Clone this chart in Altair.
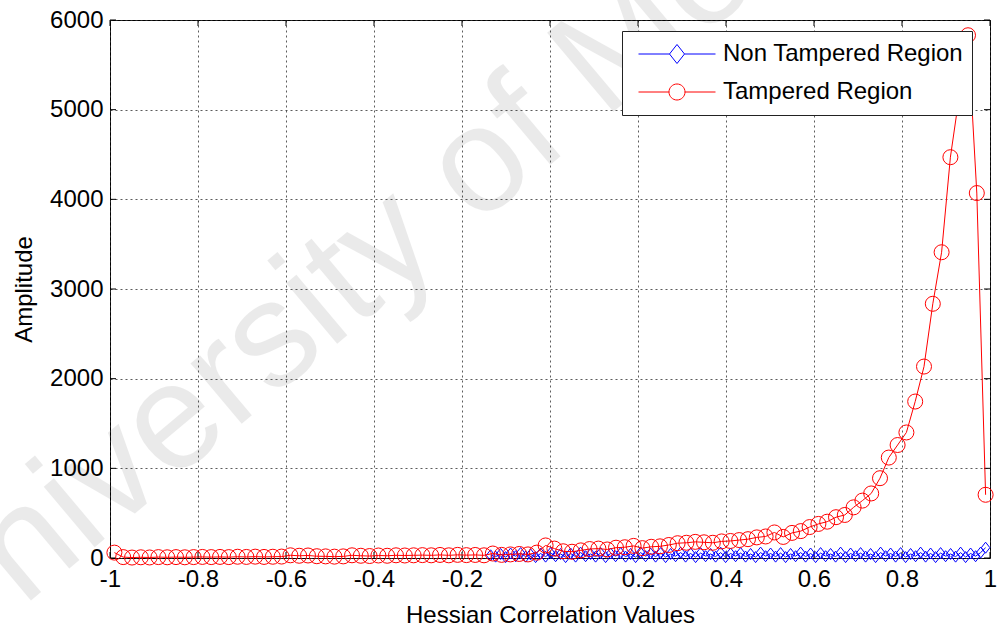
import altair as alt
import pandas as pd
import numpy as np

# ---------------- data ----------------
series_names = ["Non Tampered Region", "Tampered Region"]
series_colors = ["#0000ff", "#ff0000"]

# Tampered Region: 100 bin centres from -0.99 to 0.99
red_values = [
    60, 10, 5, 8, 6, 10, 8, 10, 8, 10,
    12, 10, 12, 10, 14, 12, 15, 12, 14, 16,
    30, 25, 28, 20, 18, 15, 18, 30, 25, 22,
    28, 25, 30, 28, 30, 32, 30, 34, 30, 35,
    32, 34, 30, 50, 35, 40, 45, 40, 60, 140,
    105, 75, 70, 85, 100, 105, 95, 115, 120, 135,
    110, 125, 130, 145, 165, 170, 180, 175, 170, 185,
    190, 200, 210, 230, 240, 285, 235, 280, 300, 345,
    380, 405, 455, 480, 565, 640, 720, 890, 1120, 1260,
    1400, 1745, 2135, 2835, 3410, 4470, 5150, 5830, 4070, 705,
]
# Non Tampered Region: 100 bin centres from -0.135 to 0.99
blue_values = [
    30, 15, 45, 10, 50, 20, 55, 15, 40, 10,
    50, 15, 55, 20, 45, 10, 50, 15, 60, 20,
    45, 15, 55, 10, 50, 20, 55, 15, 45, 10,
    60, 20, 50, 15, 55, 10, 45, 20, 60, 15,
    50, 10, 55, 20, 45, 15, 60, 10, 50, 20,
    55, 15, 45, 10, 60, 20, 50, 15, 55, 10,
    45, 20, 60, 15, 50, 10, 55, 20, 45, 15,
    60, 10, 50, 20, 55, 15, 45, 10, 60, 20,
    50, 15, 55, 10, 45, 20, 60, 15, 50, 10,
    55, 20, 45, 15, 60, 10, 50, 20, 60, 115,
]
red_range = [-0.99, 0.99]
blue_range = [-0.135, 0.99]

x_ticks = [-1, -0.8, -0.6, -0.4, -0.2, 0, 0.2, 0.4, 0.6, 0.8, 1]
y_ticks = [0, 1000, 2000, 3000, 4000, 5000, 6000]
watermark = ["University of Moratuwa"]

# ---------------- tables ----------------
red_df = pd.DataFrame({"x": np.linspace(red_range[0], red_range[1], len(red_values)), "y": red_values})
blue_df = pd.DataFrame({"x": np.linspace(blue_range[0], blue_range[1], len(blue_values)), "y": blue_values})
xt_df = pd.DataFrame({"v": x_ticks})
yt_df = pd.DataFrame({"v": y_ticks})
leg_df = pd.DataFrame({"series": series_names, "x": [0, 0], "y": [-3000, -3000]})
wm_df = pd.DataFrame({"t": watermark})

W, H = 880, 538
FONT = "Liberation Sans"

xscale = alt.Scale(domain=[-1, 1], nice=False, zero=False)
yscale = alt.Scale(domain=[0, 6000], nice=False)

xaxis = alt.Axis(
    values=x_ticks, labelExpr="'' + datum.value", title="Hessian Correlation Values",
    grid=True, gridColor="#333333", gridDash=[2, 3], gridWidth=1, gridOpacity=0.8,
    ticks=False, tickSize=0, domain=False, labelPadding=9, labelFlush=False,
    labelFont=FONT, labelFontSize=24, labelColor="black",
    titleFont=FONT, titleFontSize=24, titleFontWeight="normal", titleColor="black",
    titleBaseline="alphabetic", titleY=64,
)
yaxis = alt.Axis(
    values=y_ticks, format="d", title="Amplitude",
    grid=True, gridColor="#333333", gridDash=[2, 3], gridWidth=1, gridOpacity=0.8,
    ticks=False, tickSize=0, domain=False, labelPadding=7, labelFlush=False,
    labelFont=FONT, labelFontSize=24, labelColor="black",
    titleFont=FONT, titleFontSize=24, titleFontWeight="normal", titleColor="black",
    titleBaseline="alphabetic", titleX=-79, titleY=H / 2, titleAlign="center", titleAngle=270,
)


def xenc(f):
    return alt.X(f, type="quantitative", scale=xscale, axis=xaxis)


def yenc(f):
    return alt.Y(f, type="quantitative", scale=yscale, axis=yaxis)


# faint watermark overlaid on the figure
wm = alt.Chart(wm_df).mark_text(
    angle=320, align="left", baseline="alphabetic", fontSize=150, font=FONT,
    color="black", opacity=0.08
).encode(x=alt.value(-170), y=alt.value(657), text="t:N")

tick_b = alt.Chart(xt_df).mark_rule(color="black").encode(x=xenc("v"), y=alt.value(H), y2=alt.value(H - 6))
tick_t = alt.Chart(xt_df).mark_rule(color="black").encode(x=xenc("v"), y=alt.value(0), y2=alt.value(6))
tick_l = alt.Chart(yt_df).mark_rule(color="black").encode(y=yenc("v"), x=alt.value(0), x2=alt.value(6))
tick_r = alt.Chart(yt_df).mark_rule(color="black").encode(y=yenc("v"), x=alt.value(W - 6), x2=alt.value(W))

diamond = "M0,-1L0.78,0L0,1L-0.78,0Z"

blue_line = alt.Chart(blue_df).mark_line(color=series_colors[0], strokeWidth=1).encode(x=xenc("x"), y=yenc("y"))
blue_pts = alt.Chart(blue_df).mark_point(
    shape=diamond, size=121, filled=False, color=series_colors[0], strokeWidth=1, opacity=1
).encode(x=xenc("x"), y=yenc("y"))
red_line = alt.Chart(red_df).mark_line(color=series_colors[1], strokeWidth=1).encode(x=xenc("x"), y=yenc("y"))
red_pts = alt.Chart(red_df).mark_point(
    shape="circle", size=225, filled=False, color=series_colors[1], strokeWidth=1, opacity=1
).encode(x=xenc("x"), y=yenc("y"))

leg_diamond = "M-1,0H-0.195M0.195,0H1M0,-0.247L0.195,0L0,0.247L-0.195,0Z"
leg_circle = "M-1,0H-0.208M0.208,0H1M-0.208,0A0.208,0.208,0,1,0,0.208,0A0.208,0.208,0,1,0,-0.208,0Z"

legend = alt.Legend(
    title=None, orient="none", legendX=512, legendY=11, padding=8,
    clipHeight=30, rowPadding=8, symbolOffset=8, labelOffset=7,
    symbolSize=5929, symbolStrokeWidth=1,
    fillColor="white", strokeColor="#222222",
    labelFont=FONT, labelFontSize=24, labelColor="black", labelLimit=400,
)
leg_layer = alt.Chart(leg_df).mark_point(filled=False, clip=True, strokeWidth=1, opacity=1).encode(
    x=xenc("x"), y=yenc("y"),
    color=alt.Color("series:N", scale=alt.Scale(domain=series_names, range=series_colors), legend=legend),
    shape=alt.Shape("series:N", scale=alt.Scale(domain=series_names, range=[leg_diamond, leg_circle]), legend=legend),
)

chart = alt.layer(
    tick_b, tick_t, tick_l, tick_r, blue_line, blue_pts, red_line, red_pts, leg_layer, wm
).properties(
    width=W, height=H,
    autosize=alt.AutoSizeParams(type="none"),
    padding={"left": 110, "top": 20, "right": 10, "bottom": 72},
    background="white",
).configure_view(stroke="black", strokeWidth=1, fill="white")

chart.save("out.html", embed_options={"renderer": "svg", "actions": False})
